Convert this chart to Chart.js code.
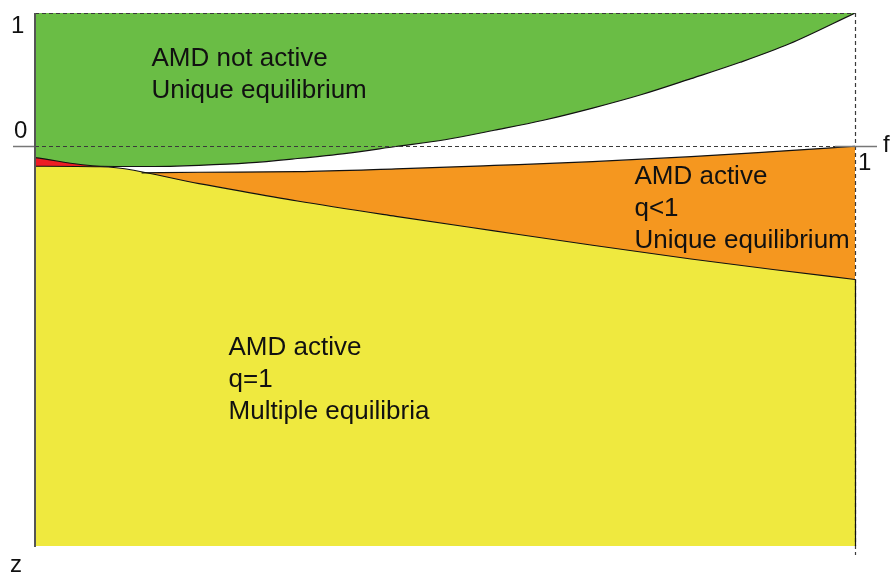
<!DOCTYPE html>
<html>
<head>
<meta charset="utf-8">
<script src="https://cdn.jsdelivr.net/npm/chart.js@4/dist/chart.umd.min.js"></script>
<style>
  html, body { margin: 0; padding: 0; background: #ffffff; }
  #c { display: block; }
</style>
</head>
<body>
<canvas id="c" width="891" height="575"></canvas>
<script>
// ---- data ----
const greenF = [0, 0.08, 0.14, 0.2, 0.26, 0.32, 0.38, 0.44, 0.5, 0.56, 0.62, 0.68, 0.74, 0.8, 0.86, 0.92, 1.0];
const greenZ = [-0.085, -0.150, -0.152, -0.143, -0.125, -0.092, -0.053, -0.002, 0.049, 0.120, 0.195, 0.286, 0.388, 0.507, 0.630, 0.769, 1.0];

const yellowF = [0, 0.08, 0.2, 0.32, 0.44, 0.56, 0.68, 0.8, 0.9, 1.0];
const yellowZ = [-0.150, -0.154, -0.280, -0.411, -0.526, -0.635, -0.743, -0.846, -0.925, -1.0];

const orangeF = [0.13, 0.2, 0.32, 0.44, 0.56, 0.68, 0.8, 0.9, 1.0];
const orangeZ = [-0.200, -0.195, -0.191, -0.170, -0.144, -0.116, -0.078, -0.040, 0.0];

const redF = [0, 0.08];
const redZ = [-0.085, -0.150];

const xTickLabels = ["1"];
const yTickLabels = ["1", "0"];
const axisNames = ["f", "z"];

const regionLabels = [
  { lines: ["AMD not active", "Unique equilibrium"], f: 0.142, z: 0.6 },
  { lines: ["AMD active", "q<1", "Unique equilibrium"], f: 0.731, z: -0.285 },
  { lines: ["AMD active", "q=1", "Multiple equilibria"], f: 0.236, z: -1.57 }
];

const pts = (fs, zs) => fs.map((f, i) => ({ x: f, y: zs[i] }));

const GREEN = '#6abd45';
const YELLOW = '#efe93f';
const ORANGE = '#f5971f';
const RED = '#ed1c24';

const FONT = '"Liberation Sans", Arial, sans-serif';

const decor = {
  id: 'decor',
  afterDatasetsDraw(chart) {
    const ctx = chart.ctx;
    const xs = chart.scales.x, ys = chart.scales.y;
    const X = v => xs.getPixelForValue(v);
    const Y = v => ys.getPixelForValue(v);
    ctx.save();
    // top dashed line
    ctx.strokeStyle = '#3a3a3a';
    ctx.lineWidth = 1.2;
    ctx.setLineDash([4, 3]);
    ctx.beginPath();
    ctx.moveTo(X(0), Y(1) + 0.5); ctx.lineTo(X(1), Y(1) + 0.5);
    ctx.stroke();
    // zero line dashed
    ctx.beginPath();
    ctx.moveTo(X(0), Math.round(Y(0)) + 0.5); ctx.lineTo(X(1), Math.round(Y(0)) + 0.5);
    ctx.stroke();
    // right dashed vertical
    ctx.beginPath();
    ctx.moveTo(Math.round(X(1)) + 0.5, Y(1)); ctx.lineTo(Math.round(X(1)) + 0.5, Y(-3) + 9);
    ctx.stroke();
    ctx.setLineDash([]);
    // solid parts of the horizontal axis beyond the box
    ctx.strokeStyle = '#777';
    ctx.lineWidth = 1.3;
    ctx.beginPath();
    ctx.moveTo(X(0) - 22, Math.round(Y(0)) + 0.5); ctx.lineTo(X(0), Math.round(Y(0)) + 0.5);
    ctx.moveTo(X(1) - 20, Math.round(Y(0)) + 0.5); ctx.lineTo(X(1) + 22, Math.round(Y(0)) + 0.5);
    ctx.stroke();
    // solid black right edge of the yellow area
    ctx.strokeStyle = '#111';
    ctx.lineWidth = 1.2;
    ctx.beginPath();
    ctx.moveTo(Math.round(X(1)) + 0.5, Y(-1)); ctx.lineTo(Math.round(X(1)) + 0.5, Y(-3));
    ctx.stroke();
    // left axis
    ctx.strokeStyle = '#555';
    ctx.lineWidth = 2;
    ctx.beginPath();
    ctx.moveTo(X(0), Y(1)); ctx.lineTo(X(0), Y(-3) + 1);
    ctx.stroke();

    // axis texts
    ctx.fillStyle = '#111';
    ctx.font = '24px ' + FONT;
    ctx.textBaseline = 'alphabetic';
    ctx.textAlign = 'left';
    ctx.fillText(yTickLabels[0], X(0) - 24, Y(1) + 20);
    ctx.fillText(yTickLabels[1], X(0) - 21, Y(0) - 8);
    ctx.fillText(xTickLabels[0], X(1) + 3, Y(0) + 24);
    ctx.fillText(axisNames[0], X(1) + 28, Y(0) + 6);
    ctx.fillText(axisNames[1], X(0) - 25, Y(-3) + 26);

    // region labels
    ctx.font = '26px ' + FONT;
    regionLabels.forEach(lb => {
      const x0 = X(lb.f), y0 = Y(lb.z);
      lb.lines.forEach((t, i) => ctx.fillText(t, x0, y0 + i * 32));
    });
    ctx.restore();
  }
};

const common = { pointRadius: 0, borderColor: '#111', borderWidth: 1.2, cubicInterpolationMode: 'monotone' };

new Chart(document.getElementById('c'), {
  type: 'line',
  data: {
    datasets: [
      Object.assign({ data: pts(greenF, greenZ), backgroundColor: GREEN, fill: { value: 1 } }, common),
      Object.assign({ data: pts(yellowF, yellowZ), backgroundColor: YELLOW, fill: 'start' }, common),
      Object.assign({ data: pts(orangeF, orangeZ), backgroundColor: ORANGE, fill: 'start' }, common),
      Object.assign({}, common, { data: pts(redF, redZ), backgroundColor: RED, fill: 'start', borderWidth: 0 })
    ]
  },
  options: {
    responsive: false,
    animation: false,
    devicePixelRatio: 1,
    layout: { padding: { left: 35, right: 36, top: 13, bottom: 29 } },
    scales: {
      x: { type: 'linear', min: 0, max: 1, display: false },
      y: { type: 'linear', min: -3, max: 1, display: false }
    },
    plugins: {
      legend: { display: false },
      tooltip: { enabled: false },
      filler: { drawTime: 'beforeDatasetsDraw' }
    }
  },
  plugins: [decor]
});
</script>
</body>
</html>
